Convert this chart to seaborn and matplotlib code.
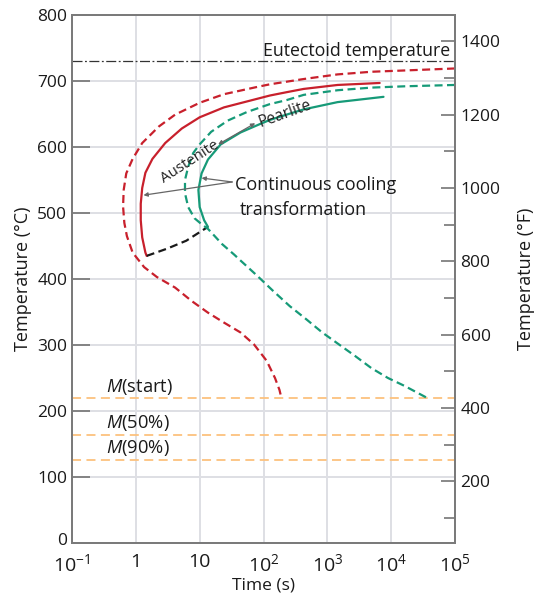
import numpy as np
import pandas as pd
import matplotlib
matplotlib.use("Agg")
import matplotlib.pyplot as plt
import matplotlib.transforms as mtransforms
import seaborn as sns

sns.set_theme(style="white")
plt.rcParams['font.family'] = ['Open Sans', 'DejaVu Sans']
plt.rcParams['mathtext.fontset'] = 'custom'
plt.rcParams['mathtext.rm'] = 'Open Sans'
plt.rcParams['mathtext.it'] = 'Open Sans:italic'

# ---- data (log10 time in s, temperature in degC) ----
red_dash_logt = [5.0, 4.22, 3.69, 3.16, 2.63, 2.1, 1.9, 1.38, 1.0, 0.615, 0.36, 0.10, -0.05,
                 -0.15, -0.19, -0.2, -0.18, -0.14, -0.05, 0.13, 0.33, 0.615, 0.87, 1.13,
                 1.38, 1.64, 1.85, 2.05, 2.18, 2.25, 2.28]
red_dash_T = [719, 716, 714, 710, 703, 695, 691, 680, 667, 649, 631, 606, 582,
              560, 535, 510, 485, 465, 440, 418, 403, 387, 367, 349,
              334, 319, 301, 276, 250, 232, 220]

red_solid_logt = [3.82, 3.16, 2.63, 2.36, 2.1, 1.9, 1.38, 1.0, 0.72, 0.46, 0.26, 0.15, 0.10,
                  0.077, 0.077, 0.10, 0.15, 0.17]
red_solid_T = [697, 694, 688, 683, 678, 673, 660, 645, 628, 606, 582, 561, 538,
               514, 489, 463, 440, 435]

black_dash_logt = [0.17, 0.49, 0.79, 1.13]
black_dash_T = [435, 446, 458, 479]

green_solid_logt = [3.88, 3.16, 2.63, 2.36, 2.1, 1.95, 1.64, 1.33, 1.13, 1.03, 0.98, 1.0,
                    1.07, 1.13]
green_solid_T = [676, 668, 657, 649, 641, 635, 622, 604, 581, 560, 535, 509, 489, 479]

green_dash_logt = [5.0, 4.22, 3.69, 3.16, 2.63, 2.36, 2.1, 1.74, 1.44, 1.18, 1.0, 0.9, 0.82,
                   0.77, 0.77, 0.82, 0.92, 1.03, 1.13, 1.35, 1.54, 1.64, 1.90, 2.15, 2.41,
                   2.67, 2.92, 3.18, 3.44, 3.69, 3.95, 4.21, 4.56]
green_dash_T = [694, 692, 690, 686, 679, 671, 665, 653, 640, 623, 604, 591, 570,
                550, 530, 509, 492, 483, 476, 453, 437, 428, 405, 382, 359,
                339, 319, 301, 283, 265, 250, 238, 220]

eutectoid_T = 730
m_levels = [220, 164, 126]
m_labels = ["start", "50%", "90%"]

x_ticks = [0.1, 1, 10, 100, 1000, 1e4, 1e5]
x_ticklabels = [r"$10^{-1}$", "1", "10", r"$10^{2}$", r"$10^{3}$", r"$10^{4}$", r"$10^{5}$"]
c_ticks = list(range(0, 801, 100))
f_major = list(range(200, 1401, 200))
f_minor = list(range(100, 1401, 100))

RED = "#c8202c"
GREEN = "#169a78"
ORANGE = "#fcc27e"
GRID = "#dedfe4"

fig = plt.figure(figsize=(5.34, 5.97), dpi=100)
ax = fig.add_axes([72/534, 1-543/597, (455-72)/534, (543-15)/597])

def curve(lt, T, color, ls, lw=1.6):
    df = pd.DataFrame({"t": 10**np.array(lt, dtype=float), "T": T})
    sns.lineplot(data=df, x="t", y="T", sort=False, estimator=None, color=color,
                 linestyle=ls, lw=lw, ax=ax)

DASH = (0, (3.6, 2.0))
curve(red_dash_logt, red_dash_T, RED, DASH)
curve(red_solid_logt, red_solid_T, RED, "-")
curve(black_dash_logt, black_dash_T, "#1a1a1a", DASH)
curve(green_solid_logt, green_solid_T, GREEN, "-")
curve(green_dash_logt, green_dash_T, GREEN, DASH)

ax.axhline(eutectoid_T, color="#333333", lw=0.9, ls=(0, (8, 2, 1.5, 2)))
for lvl in m_levels:
    ax.axhline(lvl, color=ORANGE, lw=1.3, ls=(0, (5, 3)), zorder=1)

ax.set_xscale("log")
ax.set_xlim(0.1, 1e5)
ax.set_ylim(0, 800)
ax.set_xticks(x_ticks)
ax.set_xticklabels(x_ticklabels)
ax.xaxis.set_minor_locator(matplotlib.ticker.NullLocator())
ax.set_yticks(c_ticks)
ax.grid(True, color=GRID, lw=1.4)
ax.set_axisbelow(True)
for s in ax.spines.values():
    s.set_color("#7a7a7a")
    s.set_linewidth(1.3)
ax.tick_params(axis="x", direction="in", length=12, width=1.3, color="#6a6a6a",
               labelsize=14, pad=7, labelcolor="#1a1a1a")
ax.tick_params(axis="y", direction="in", length=13, width=1.1, color="#6a6a6a",
               labelsize=12.5, pad=3.5, labelcolor="#1a1a1a")
ax.set_xlabel("Time (s)", fontsize=12.5, labelpad=2, color="#1a1a1a")
ax.set_ylabel("Temperature (°C)", fontsize=13, labelpad=4, color="#1a1a1a")

# nudge the "0" label up a little so it clears the 10^-1 label
zero_lab = ax.get_yticklabels()[0]
zero_lab.set_transform(zero_lab.get_transform() +
                       mtransforms.ScaledTranslation(0, 3/72, fig.dpi_scale_trans))

ax2 = ax.twinx()
ax2.set_ylim(0*9/5+32, 800*9/5+32)
ax2.set_yticks(f_major)
ax2.set_yticks(f_minor, minor=True)
ax2.tick_params(axis="y", which="major", direction="in", length=10, width=1.1,
                color="#6a6a6a", labelsize=12.5, pad=4, labelcolor="#1a1a1a")
ax2.tick_params(axis="y", which="minor", direction="in", length=8, width=1.1, color="#6a6a6a")
ax2.set_ylabel("Temperature (°F)", fontsize=13, labelpad=12, color="#1a1a1a")
for s in ax2.spines.values():
    s.set_color("#7a7a7a")
    s.set_linewidth(1.3)
ax2.grid(False)

# ---- text annotations ----
ax.text(10**1.99, 745, "Eutectoid temperature", fontsize=12.8, ha="left", va="center", color="#1a1a1a")
for lvl, lab, ty in zip(m_levels, m_labels, [236, 182, 144]):
    ax.text(10**-0.467, ty, r"$\it{M}$" + "(" + lab + ")", fontsize=13.2, ha="left",
            va="center", color="#1a1a1a")

ax.text(10**0.84, 578, "Austenite", fontsize=10.8, rotation=33, ha="center", va="center",
        color="#222222")
ax.text(10**2.33, 650, "Pearlite", fontsize=11.2, rotation=20, ha="center", va="center",
        color="#222222")
ax.annotate("", xy=(10**1.87, 636), xytext=(10**1.29, 604),
            arrowprops=dict(arrowstyle="<|-|>", color="#666666", lw=0.9,
                            mutation_scale=6, shrinkA=0, shrinkB=0))

ax.text(10**1.555, 542, "Continuous cooling", fontsize=13, ha="left", va="center", color="#1a1a1a")
ax.text(10**1.63, 505, "transformation", fontsize=13, ha="left", va="center", color="#1a1a1a")
for tx, ty in [(10**0.12, 527), (10**1.03, 553)]:
    ax.annotate("", xy=(tx, ty), xytext=(10**1.51, 547),
                arrowprops=dict(arrowstyle="-|>", color="#666666", lw=0.9,
                                mutation_scale=6, shrinkA=0, shrinkB=0))

fig.savefig("out.png", dpi=100, facecolor="white")
